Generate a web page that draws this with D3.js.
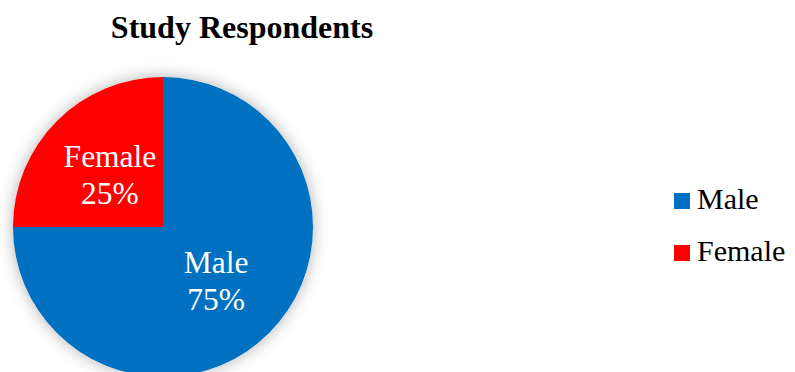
<!DOCTYPE html>
<html>
<head>
<meta charset="utf-8">
<script src="https://cdn.jsdelivr.net/npm/d3@7"></script>
<style>
  html, body { margin: 0; padding: 0; background: #fff; }
  svg { display: block; font-family: "Liberation Serif", "Times New Roman", serif; }
</style>
</head>
<body>
<div id="viz"></div>
<script>
  // chart data
  var categories = ['Male', 'Female'];
  var values = [75, 25];
  var colors = ['#0070C0', '#FF0000'];
  var title = 'Study Respondents';

  var width = 795, height = 372;
  var cx = 163, cy = 227, radius = 150;

  var svg = d3.select('#viz')
    .append('svg')
    .attr('width', width)
    .attr('height', height);

  var defs = svg.append('defs');
  var filter = defs.append('filter')
    .attr('id', 'glow')
    .attr('x', '-20%').attr('y', '-20%')
    .attr('width', '140%').attr('height', '140%');
  filter.append('feDropShadow')
    .attr('dx', 0).attr('dy', 0)
    .attr('stdDeviation', 8)
    .attr('flood-color', '#000')
    .attr('flood-opacity', 0.3);

  svg.append('text')
    .attr('x', 242)
    .attr('y', 38)
    .attr('text-anchor', 'middle')
    .style('font-size', '32px')
    .style('font-weight', 'bold')
    .text(title);

  var color = d3.scaleOrdinal().domain(categories).range(colors);
  var total = d3.sum(values);
  var slices = d3.pie().sort(null)(values);
  var arc = d3.arc().innerRadius(0).outerRadius(radius);
  var labelArc = d3.arc().innerRadius(0).outerRadius(radius);

  var g = svg.append('g').attr('transform', 'translate(' + cx + ',' + cy + ')');

  g.append('g')
    .attr('filter', 'url(#glow)')
    .selectAll('path')
    .data(slices)
    .enter()
    .append('path')
    .attr('d', arc)
    .attr('fill', function (d, i) { return color(categories[i]); });

  var labels = g.selectAll('text.lbl')
    .data(slices)
    .enter()
    .append('text')
    .attr('class', 'lbl')
    .attr('text-anchor', 'middle')
    .attr('fill', '#fff')
    .style('font-size', '31.5px')
    .attr('transform', function (d) {
      var c = labelArc.centroid(d);
      return 'translate(' + c[0] + ',' + c[1] + ')';
    });

  labels.append('tspan')
    .attr('x', 0)
    .attr('y', -7)
    .text(function (d, i) { return categories[i]; });
  labels.append('tspan')
    .attr('x', 0)
    .attr('y', 30)
    .text(function (d) { return Math.round(d.value / total * 100) + '%'; });

  // legend
  var legend = svg.append('g').attr('transform', 'translate(674,193)');
  var item = legend.selectAll('g')
    .data(categories)
    .enter()
    .append('g')
    .attr('transform', function (d, i) { return 'translate(0,' + (i * 52) + ')'; });

  item.append('rect')
    .attr('width', 16)
    .attr('height', 16)
    .attr('fill', function (d) { return color(d); });

  item.append('text')
    .attr('x', 23)
    .attr('y', 16)
    .style('font-size', '30px')
    .attr('fill', '#000')
    .text(function (d) { return d; });
</script>
</body>
</html>
